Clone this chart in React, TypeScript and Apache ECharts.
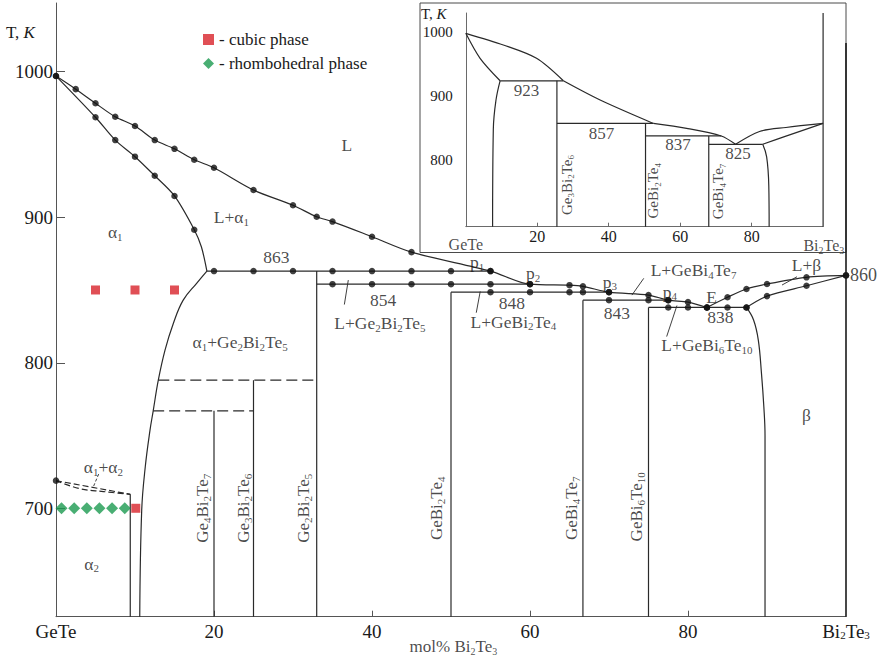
import React, { useEffect, useRef } from 'react';
import * as echarts from 'echarts';

const FONT = 'Liberation Serif';
const INK = '#1a1a1a';
const LINE = '#2a2a2a';

// ---------------- main diagram: axis ticks ----------------
const mainXTickLabels = ['GeTe', '20', '40', '60', '80', 'Bi2Te3'];
const mainYTickValues = [700, 800, 900, 1000];
const mainXTitle: [string, number, number] = ['mol% Bi2Te3', 50.3, 604.7];

// ---------------- main diagram: curves (mol% Bi2Te3, K) ----------------
const mainLiquidus = [
  [0, 997], [2.5, 988], [5, 978.3], [7.5, 969], [10, 962.7], [12.5, 953], [15, 947],
  [17.5, 939.5], [20, 934], [25, 918.7], [30, 908.2], [33, 900.3], [35, 897], [40, 886.6],
  [45, 876], [55, 863], [60, 854], [65, 853.3], [66.7, 852.5], [70, 848.5], [75, 846.5],
  [77.5, 843], [80, 841.7], [82.4, 838],
];
const alphaSolidusDots = [[0, 997], [5, 968.7], [7.5, 953], [10, 941.6], [12.5, 928.5], [15, 914.6], [17.5, 891.4]];
const alphaSolidusTail = [[18.4, 879.7], [19.1, 863]];
const alphaSolvus = [
  [19.1, 863], [17.8, 854.6], [16.1, 843], [14.85, 827], [13.8, 808.7], [12.95, 788],
  [12.3, 766.8], [11.9, 753.7], [11.3, 728.5], [10.85, 698.8], [10.6, 625.5],
];
const betaLiquidus = [[82.4, 838], [85, 845], [87.4, 850.7], [90, 854.1], [95, 858.7], [100, 860]];
const betaSolidus = [[87.4, 838], [90, 845.8], [95, 852.9], [100, 860]];
const betaSolvus = [[87.4, 838], [88.3, 829.4], [88.9, 815.6], [89.3, 792.7], [89.6, 769.8], [89.75, 750], [89.75, 625.5]];

// isotherms
const iso863 = [[19.1, 863], [55, 863]];
const iso854 = [[33, 854], [60, 854]];
const iso848 = [[50, 848.5], [70, 848.5]];
const iso843 = [[66.7, 843], [77.5, 843]];
const iso838 = [[75, 838], [87.4, 838]];
const iso863Dots = [[20, 863], [25, 863], [30, 863], [35, 863], [40, 863], [45, 863], [50, 863], [55, 863]];
const iso854Dots = [[35, 854], [40, 854], [45, 854], [50, 854], [55, 854], [60, 854]];
const iso848Dots = [[55, 848.5], [60, 848.5], [65, 848.5], [66.7, 848.5], [70, 848.5]];
const iso843Dots = [[70, 843], [75, 843], [77.5, 843]];
const iso838Dots = [[77.5, 838], [80, 838], [82.4, 838], [85, 838], [87.4, 838]];

// compound lines and other boundaries
const compoundLines = [
  [[20, 767], [20, 625.5]],
  [[25, 788], [25, 625.5]],
  [[33, 863], [33, 625.5]],
  [[50, 848.5], [50, 625.5]],
  [[66.7, 843], [66.7, 625.5]],
  [[75, 838], [75, 625.5]],
];
const alpha2Boundary = [[9.4, 709.6], [9.4, 625.5]];
const dashed788 = [[12.95, 788], [33, 788]];
const dashed767 = [[12.3, 767], [25, 767]];
const lensUpper = [[0, 719], [9.4, 709.6]];
const lensLower = [[0, 719], [3, 713.5], [6, 711.5], [9.4, 709.6]];
const lensDot = [[0, 719]];
const bi2te3Edge = [[100, 625.5], [100, 1019.7]];

// phase markers
const cubicPhase = [[5, 850], [10, 850], [15, 850], [10.1, 700]];
const rhombohedralPhase = [[0.7, 700], [2.3, 700], [3.9, 700], [5.5, 700], [7.1, 700], [8.7, 700]];

// leader lines
const leaders = [
  [[37, 856.8], [36.5, 840]],
  [[53.7, 849], [53.2, 834.4]],
  [[72.9, 846.5], [74.4, 858]],
  [[78.6, 839.3], [77.3, 818]],
  [[91.9, 853.4], [93.8, 859.1]],
];
const lensLeader = [[5.4, 723.5], [4.7, 714.4]];

// labels [text, x, T]
const mainLabels: [string, number, number][] = [
  ['L', 36.8, 949.6], ['L+α1', 22.2, 900.3], ['α1', 7.5, 890], ['863', 27.9, 872.9],
  ['α1+Ge2Bi2Te5', 23.3, 814.4], ['854', 41.4, 843.1], ['L+Ge2Bi2Te5', 41, 827],
  ['848', 57.7, 840.8], ['L+GeBi2Te4', 57.9, 828.2], ['843', 71, 834],
  ['L+GeBi4Te7', 80.7, 863.7], ['p1', 53.3, 869], ['p2', 60.4, 861.4], ['p3', 70.1, 855.7],
  ['p4', 77.7, 848.8], ['E', 83, 845.4], ['838', 84.1, 831.6], ['L+GeBi6Te10', 82.4, 812.2],
  ['L+β', 95, 867.1], ['β', 95, 764], ['α1+α2', 6, 728.5], ['α2', 4.5, 662],
];
const mainRotLabels: [string, number, number][] = [
  ['Ge4Bi2Te7', 18.6, 700], ['Ge3Bi2Te6', 23.7, 700], ['Ge2Bi2Te5', 31.3, 700],
  ['GeBi2Te4', 48.2, 700], ['GeBi4Te7', 65.3, 700], ['GeBi6Te10', 73.5, 701],
];
const mainSideLabel: [string, number, number] = ['860', 100.5, 860.3];

// ---------------- inset ----------------
const insetXTickValues = [20, 40, 60, 80];
const insetYTickValues = [800, 900, 1000];
const insetLiqA = [[0, 997.5], [10.5, 979.3], [19.8, 958.5], [27.3, 923.5]];
const insetLiqB = [[27.3, 923.5], [37.6, 893.5], [52.5, 857]];
const insetLiqC = [[52.5, 857], [61.8, 849.4], [71.5, 837.5], [75.5, 824.5]];
const insetLiqD = [[75.5, 824.5], [82.2, 844.5], [89.6, 850.7], [100, 857]];
const insetSolD = [[83.1, 824.5], [89.6, 837.2], [100, 857]];
const insetSolA = [[0, 997.5], [4, 958.5], [9.6, 923.5]];
const insetSolvA = [[9.6, 923.5], [8.45, 893.5], [7.7, 848], [7.5, 696]];
const insetSolvB = [[83.1, 824.5], [84.2, 805], [84.8, 760], [84.9, 696]];
const insetIso = [
  [[9.6, 923.5], [27.3, 923.5]],
  [[25.5, 857], [52.5, 857]],
  [[50.3, 837.5], [71.5, 837.5]],
  [[68, 824.5], [83.1, 824.5]],
];
const insetVerticals = [
  [[25.5, 923.5], [25.5, 696]],
  [[50.3, 857], [50.3, 696]],
  [[68, 837.5], [68, 696]],
  [[100, 696], [100, 1029.2]],
];
const insetLabels: [string, number, number][] = [['923', 17, 909], ['857', 38, 842], ['837', 59.4, 823.4], ['825', 76.2, 809.4]];
const insetRotLabels: [string, number, number][] = [['Ge3Bi2Te6', 28.2, 761], ['GeBi2Te4', 52.5, 752], ['GeBi4Te7', 70.7, 751]];
const insetEndLabels: [string, number, number][] = [['GeTe', 0, 667.5], ['Bi2Te3', 100.2, 666]];

const chem = (s: string) => s.replace(/([A-Za-zα])(\d+)/g, '$1{s|$2}');

function buildOption() {
  const subStyle = (size: number) => ({ fontSize: size, fontFamily: FONT, color: INK, verticalAlign: 'bottom', lineHeight: size });
  const line = (data: any, g: number, o: any = {}) => ({
    type: 'line', xAxisIndex: g, yAxisIndex: g, data, symbol: 'none', showSymbol: false,
    silent: true, z: g ? 10 : 2, emphasis: { disabled: true },
    lineStyle: { color: LINE, width: 1.2, ...(o.lineStyle || {}) },
    smooth: o.smooth || false,
  });
  const dots = (data: any) => ({
    type: 'scatter', xAxisIndex: 0, yAxisIndex: 0, data, symbol: 'circle', symbolSize: 6.5,
    itemStyle: { color: '#111' }, silent: true, z: 3, emphasis: { disabled: true },
  });
  const labels = (items: [string, number, number][], g: number, size: number, subSize: number, extra: any = {}) => ({
    type: 'scatter', xAxisIndex: g, yAxisIndex: g, symbolSize: 1, clip: false,
    itemStyle: { color: 'rgba(0,0,0,0)' }, silent: true, z: g ? 12 : 4, emphasis: { disabled: true },
    data: items.map(([t, x, y]) => ({
      value: [x, y],
      label: {
        show: true, position: 'inside', formatter: chem(t), fontSize: size, lineHeight: size + 3,
        fontFamily: FONT, color: INK, rich: { s: subStyle(subSize) }, ...extra,
      },
    })),
  });

  const series: any[] = [
    line(mainLiquidus, 0, { smooth: 0.3 }),
    dots(mainLiquidus),
    line([...alphaSolidusDots, ...alphaSolidusTail], 0, { smooth: 0.3 }),
    dots(alphaSolidusDots),
    line(alphaSolvus, 0, { smooth: 0.4 }),
    line(betaLiquidus, 0, { smooth: 0.3 }),
    dots(betaLiquidus),
    line(betaSolidus, 0, { smooth: 0.3 }),
    dots(betaSolidus),
    line(betaSolvus, 0, { smooth: 0.4 }),
    line(iso863, 0), line(iso854, 0), line(iso848, 0), line(iso843, 0), line(iso838, 0),
    dots(iso863Dots), dots(iso854Dots), dots(iso848Dots), dots(iso843Dots), dots(iso838Dots),
    ...compoundLines.map((d) => line(d, 0)),
    line(alpha2Boundary, 0),
    line(dashed788, 0, { lineStyle: { type: [11, 5] } }),
    line(dashed767, 0, { lineStyle: { type: [11, 5] } }),
    line(lensUpper, 0, { lineStyle: { type: [6, 3] } }),
    line(lensLower, 0, { smooth: 0.4, lineStyle: { type: [6, 3] } }),
    dots(lensDot),
    ...leaders.map((d) => line(d, 0, { lineStyle: { width: 0.9 } })),
    line(lensLeader, 0, { lineStyle: { width: 0.9, type: [3, 2] } }),
    {
      name: 'cubic phase', type: 'scatter', xAxisIndex: 0, yAxisIndex: 0, data: cubicPhase,
      symbol: 'rect', symbolSize: 9, itemStyle: { color: '#d8232a' }, z: 5, silent: true,
      emphasis: { disabled: true },
    },
    {
      name: 'rhombohedral phase', type: 'scatter', xAxisIndex: 0, yAxisIndex: 0, data: rhombohedralPhase,
      symbol: 'diamond', symbolSize: 12, itemStyle: { color: '#1c9a50' }, z: 5, silent: true,
      emphasis: { disabled: true },
    },
    labels(mainLabels, 0, 17.5, 11),
    labels(mainRotLabels, 0, 17, 11, { rotate: 90 }),
    labels([mainSideLabel], 0, 18, 11, { align: 'left' }),
    labels([mainXTitle], 0, 17, 10),
    // inset
    line(insetLiqA, 1, { smooth: 0.3 }),
    line(insetLiqB, 1, { smooth: 0.3 }),
    line(insetLiqC, 1, { smooth: 0.3 }),
    line(insetLiqD, 1, { smooth: 0.3 }),
    line(insetSolD, 1, { smooth: 0.3 }),
    line(insetSolA, 1, { smooth: 0.3 }),
    line(insetSolvA, 1, { smooth: 0.4 }),
    line(insetSolvB, 1, { smooth: 0.4 }),
    ...insetIso.map((d) => line(d, 1)),
    ...insetVerticals.map((d) => line(d, 1)),
    labels(insetLabels, 1, 17, 10),
    labels(insetRotLabels, 1, 15, 9, { rotate: 90 }),
    labels(insetEndLabels, 1, 16, 10),
    { ...line(bi2te3Edge, 0, { lineStyle: { width: 1.6, color: '#1a1a1a' } }), z: 12 },
  ];

  return {
    animation: false,
    backgroundColor: '#fff',
    textStyle: { fontFamily: FONT },
    tooltip: { show: false },
    legend: {
      data: ['cubic phase', 'rhombohedral phase'],
      orient: 'vertical', left: 198, top: 26, itemWidth: 11, itemHeight: 11, itemGap: 7,
      formatter: '- {name}', selectedMode: false,
      textStyle: { fontSize: 17, fontFamily: FONT, color: INK, lineHeight: 17 },
    },
    grid: [
      { left: 56, top: 3, width: 790, height: 613.7, outerBoundsMode: 'none', containLabel: false },
      { left: 465.8, top: 13, width: 357.3, height: 213.7, outerBoundsMode: 'none', containLabel: false },
    ],
    graphic: [
      {
        type: 'rect', shape: { x: 420, y: 3, width: 426, height: 249.5 },
        style: { fill: '#fff', stroke: '#4a4a4a', lineWidth: 1 }, z: 6, silent: true,
      },
      {
        type: 'text', x: 6, y: 32, z: 20, silent: true,
        style: {
          text: 'T, {i|K}', fontSize: 17, fontFamily: FONT, fill: INK, verticalAlign: 'middle',
          rich: { i: { fontSize: 17, fontFamily: FONT, fontStyle: 'italic', fill: INK } },
        },
      },
      {
        type: 'text', x: 421, y: 14, z: 20, silent: true,
        style: {
          text: 'T, {i|K}', fontSize: 15, fontFamily: FONT, fill: INK, verticalAlign: 'middle',
          rich: { i: { fontSize: 15, fontFamily: FONT, fontStyle: 'italic', fill: INK } },
        },
      },
    ],
    xAxis: [
      {
        gridIndex: 0, type: 'value', min: 0, max: 100, interval: 20,
        axisLine: { show: true, lineStyle: { color: '#555', width: 1 } },
        axisTick: { show: true, inside: true, length: 6, customValues: [20, 40, 60, 80], lineStyle: { color: '#555' } },
        axisLabel: {
          show: true, margin: 5, fontSize: 19, fontFamily: FONT, color: INK, showMinLabel: true, showMaxLabel: true,
          formatter: (v: number) => chem(mainXTickLabels[Math.round(v / 20)] ?? ''),
          rich: { s: subStyle(11) },
        },
        splitLine: { show: false },
      },
      {
        gridIndex: 1, type: 'value', min: 0, max: 100, interval: 20, z: 10,
        axisLine: { show: true, lineStyle: { color: '#6a6a6a', width: 1 } },
        axisTick: { show: true, inside: true, length: 4, customValues: insetXTickValues, lineStyle: { color: '#6a6a6a' } },
        axisLabel: { show: true, customValues: insetXTickValues, margin: 2, fontSize: 16, fontFamily: FONT, color: INK },
        splitLine: { show: false },
      },
    ],
    yAxis: [
      {
        gridIndex: 0, type: 'value', min: 625.5, max: 1047.2,
        axisLine: { show: true, lineStyle: { color: '#555', width: 1 } },
        axisTick: { show: true, inside: true, length: 9, customValues: mainYTickValues, lineStyle: { color: '#555' } },
        axisLabel: {
          show: true, customValues: mainYTickValues, margin: 3, fontSize: 19, fontFamily: FONT, color: INK,
          formatter: (v: number) => String(v),
        },
        splitLine: { show: false },
      },
      {
        gridIndex: 1, type: 'value', min: 696, max: 1029.2, z: 10,
        axisLine: { show: true, lineStyle: { color: '#6a6a6a', width: 1 } },
        axisTick: { show: false },
        axisLabel: {
          show: true, customValues: insetYTickValues, margin: 13, fontSize: 15, fontFamily: FONT, color: INK,
          formatter: (v: number) => String(v),
        },
        splitLine: { show: false },
      },
    ],
    series,
  };
}

export default function App() {
  const ref = useRef<HTMLDivElement>(null);
  useEffect(() => {
    document.body.style.margin = '0';
    if (!ref.current) return;
    const chart = echarts.init(ref.current, undefined, { renderer: 'svg' });
    chart.setOption(buildOption() as any);
    return () => chart.dispose();
  }, []);
  return (
    <div
      ref={ref}
      style={{ width: 885, height: 658, background: '#fff', overflow: 'hidden' }}
    />
  );
}
